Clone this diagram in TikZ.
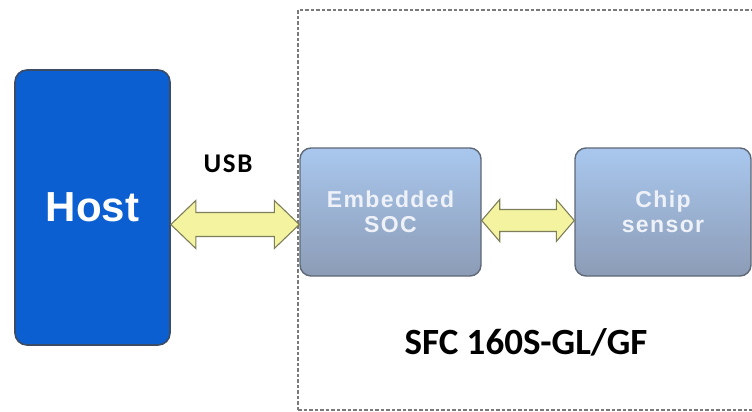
\documentclass[tikz,border=0pt]{standalone}
\usepackage{fontspec}
\setmainfont{Carlito}
\newfontfamily\arialf{Liberation Sans}
\usetikzlibrary{calc}
\definecolor{hostblue}{HTML}{0B5FD0}
\definecolor{hostedge}{HTML}{3C4C66}
\definecolor{boxtop}{HTML}{A9C7EE}
\definecolor{boxbot}{HTML}{8C9CB6}
\definecolor{boxedge}{HTML}{5E6876}
\definecolor{boxtext}{HTML}{EEF2F8}
\definecolor{arrfill}{HTML}{F3F3A0}
\definecolor{arredge}{HTML}{7E7E5A}
\definecolor{frameg}{HTML}{7A7A7A}
\tikzset{
  hostbox/.style={draw=hostedge, line width=1.6pt, fill=hostblue, rounded corners=12pt,
    minimum width=155pt, minimum height=275pt, inner sep=0pt,
    text=white, font=\arialf\bfseries\fontsize{42}{46}\selectfont},
  blockbox/.style={draw=boxedge, line width=1.4pt, top color=boxtop, bottom color=boxbot,
    rounded corners=11pt, minimum height=128pt, inner sep=0pt, align=center,
    text=boxtext, font=\arialf\bfseries\fontsize{23}{27}\selectfont\addfontfeature{LetterSpace=6}},
  yarrow/.style={draw=arredge, line width=1.1pt, fill=arrfill, line join=miter},
  frame/.style={draw=frameg, line width=1.4pt, dash pattern=on 3.5pt off 2pt},
  lbl/.style={font=\bfseries\fontsize{27}{30}\selectfont, text=black},
  title/.style={font=\bfseries\fontsize{37}{42}\selectfont, text=black}
}
\begin{document}
\begin{tikzpicture}[x=1pt,y=-1pt]
\useasboundingbox (0,0) rectangle (752,412);
\fill[white] (0,0) rectangle (752,412);
% dashed frame
\draw[frame] (298,410) -- (298,10) -- (770,10);
\draw[frame] (298,410) -- (770,410);
% nodes
\node[hostbox] (host) at (92.5,207.5) {Host};
\node[blockbox, minimum width=181pt] (soc) at (390.5,212) {Embedded\\[-2pt]SOC};
\node[blockbox, minimum width=176pt] (chip) at (663,212) {Chip\\[-2pt]sensor};
\coordinate (usbY) at (0,224.5);
\coordinate (busY) at (0,220.5);
% USB arrow
\draw[yarrow] (host.east |- usbY) -- ++(25,-24) -- ++(0,12)
  -- ($(soc.west |- usbY)+(-25,-12)$) -- ++(0,-12) -- (soc.west |- usbY)
  -- ++(-25,24) -- ++(0,-12) -- ($(host.east |- usbY)+(25,12)$) -- ++(0,12) -- cycle;
% internal arrow
\draw[yarrow] (soc.east |- busY) -- ++(18,-21) -- ++(0,10)
  -- ($(chip.west |- busY)+(-18,-11)$) -- ++(0,-10) -- (chip.west |- busY)
  -- ++(-18,21) -- ++(0,-10) -- ($(soc.east |- busY)+(18,11)$) -- ++(0,10) -- cycle;
% labels
\node[lbl] (usb) at (228,164) {\addfontfeature{LetterSpace=6}USB};
\node[title] (name) at (526,342) {SFC 160S-GL/GF};
\end{tikzpicture}
\end{document}
